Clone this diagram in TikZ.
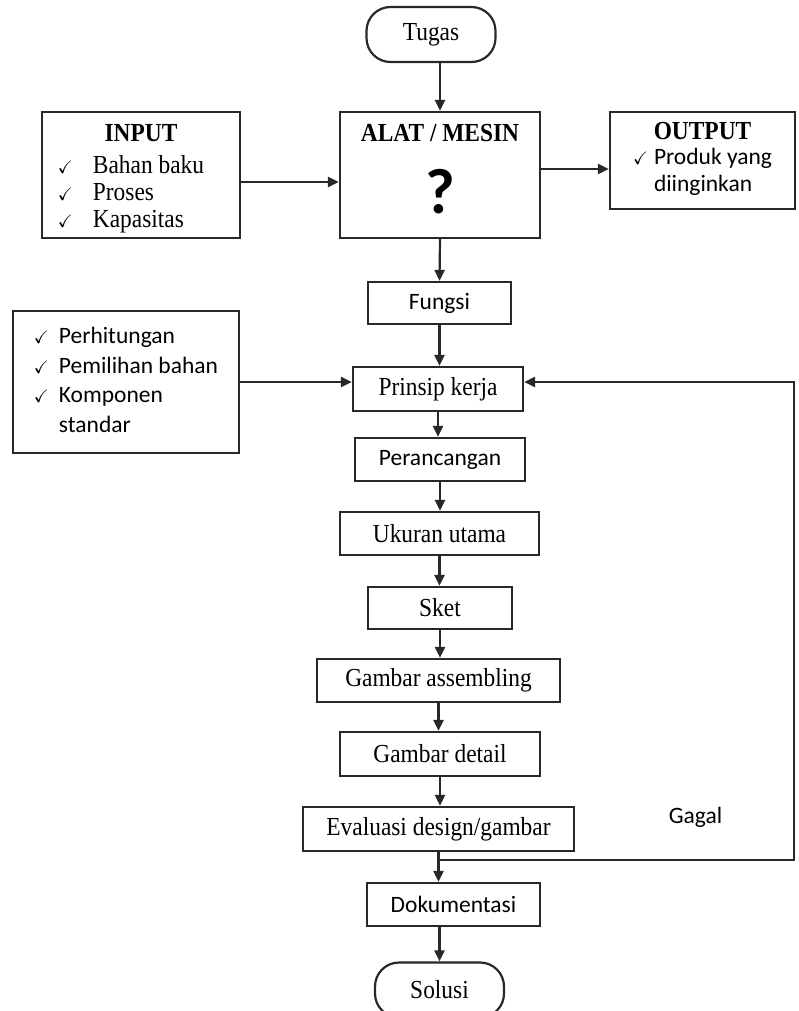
\documentclass[tikz,border=0pt]{standalone}
\usepackage{fontspec}
\setmainfont[FakeStretch=0.9]{Liberation Serif}
\newfontfamily\calfont{Carlito}
\usepackage{amssymb}
\usetikzlibrary{arrows.meta,positioning}
\definecolor{LineClr}{RGB}{40,40,40}
\newcommand\cek{{\fontsize{18}{18}\selectfont$\checkmark$}}

\begin{document}
\begin{tikzpicture}[x=1pt,y=-1pt,
  font=\fontsize{26}{27}\selectfont,
  box/.style={draw=LineClr,line width=2.2pt,inner sep=0pt,align=center},
  sans/.style={font=\calfont\fontsize{23.5}{29.5}\selectfont},
  term/.style={box,rounded corners=24pt},
  flow/.style={draw=LineClr,line width=2.2pt,-{Triangle[length=11pt,width=10pt]}}]
\useasboundingbox (0,0) rectangle (798,1011);

\node[term,minimum width=129pt,minimum height=55pt] (tugas) at (431,34.5) {Tugas};

\node[box,minimum width=200pt,minimum height=126pt] (alat) at (440,175)
  {\textbf{ALAT / MESIN}\\[26pt]{\calfont\bfseries\fontsize{64}{64}\selectfont\raisebox{0pt}[\height][12pt]{?}}};
\node[box,minimum width=198pt,minimum height=126pt] (input) at (141,175)
  {\begin{tabular}{@{}l@{\hspace{20pt}}l@{\hspace{20pt}}}
   \multicolumn{2}{c}{\rule{0pt}{27pt}\textbf{INPUT}\hspace{20pt}}\\[5pt]
   \cek & Bahan baku\\
   \cek & Proses\\
   \cek & Kapasitas
   \end{tabular}};
\node[box,minimum width=185pt,minimum height=97pt] (output) at (702.5,160.5)
  {\begin{tabular}{@{}l@{\hspace{6pt}}l@{}}
   \multicolumn{2}{c}{\textbf{OUTPUT}}\\[-2pt]
   \cek & \calfont\fontsize{23.5}{25}\selectfont Produk yang\\
   & \calfont\fontsize{23.5}{25}\selectfont diinginkan
   \end{tabular}};

\node[box,sans,minimum width=143pt,minimum height=42pt] (fungsi) at (439.5,303) {Fungsi};
\node[box,minimum width=170pt,minimum height=44pt] (prinsip) at (438,389) {Prinsip kerja};
\node[box,sans,minimum width=226pt,minimum height=142pt] (calc) at (126,382)
  {\begin{tabular}{@{}l@{\hspace{10pt}}l@{}}
   \cek & Perhitungan\\
   \cek & Pemilihan bahan\\
   \cek & Komponen\\
   & standar
   \end{tabular}};
\node[box,sans,minimum width=170pt,minimum height=43pt] (peranc) at (440,459.5) {Perancangan};
\node[box,minimum width=199pt,minimum height=43pt] (ukuran) at (439.5,533.5) {Ukuran utama};
\node[box,minimum width=144pt,minimum height=42pt] (sket) at (440,608) {Sket};
\node[box,minimum width=243pt,minimum height=43pt] (assem) at (438.5,680.5) {Gambar assembling};
\node[box,minimum width=200pt,minimum height=44pt] (detail) at (440,754) {Gambar detail};
\node[box,minimum width=271pt,minimum height=44pt] (eval) at (438.5,829) {Evaluasi design/gambar};
\node[box,sans,minimum width=173pt,minimum height=43pt] (dok) at (453.5,904.5) {Dokumentasi};
\node[term,minimum width=129pt,minimum height=55pt] (solusi) at (439.5,990) {Solusi};

\node[sans] (gagal) at (695.5,817) {Gagal};

\coordinate (split) at ([yshift=-8pt]eval.south);
\coordinate (back) at (794,0);

\draw[flow] (tugas.south -| alat.north) -- (alat.north);
\draw[flow] ([yshift=-7pt]input.east) -- ([yshift=-7pt]input.east -| alat.west);
\draw[flow] ([yshift=6pt]alat.east) -- ([yshift=6pt]alat.east -| output.west);
\draw[flow] (alat.south) -- (fungsi.north);
\draw[flow] (fungsi.south) -- (fungsi.south |- prinsip.north);
\draw[flow] (calc.east) -- (calc.east -| prinsip.west);
\draw[flow] (prinsip.south) -- (prinsip.south |- peranc.north);
\draw[flow] (peranc.south) -- (peranc.south |- ukuran.north);
\draw[flow] (ukuran.south) -- (ukuran.south |- sket.north);
\draw[flow] (sket.south) -- (sket.south |- assem.north);
\draw[flow] (assem.south) -- (assem.south |- detail.north);
\draw[flow] (detail.south) -- (detail.south |- eval.north);
\draw[flow] (eval.south) -- (eval.south |- dok.north);
\draw[flow] (dok.south -| solusi.north) -- (solusi.north);
\draw[flow] (split) -- (split -| back) -- (back |- calc.east) -- (calc.east -| prinsip.east);

\end{tikzpicture}
\end{document}
